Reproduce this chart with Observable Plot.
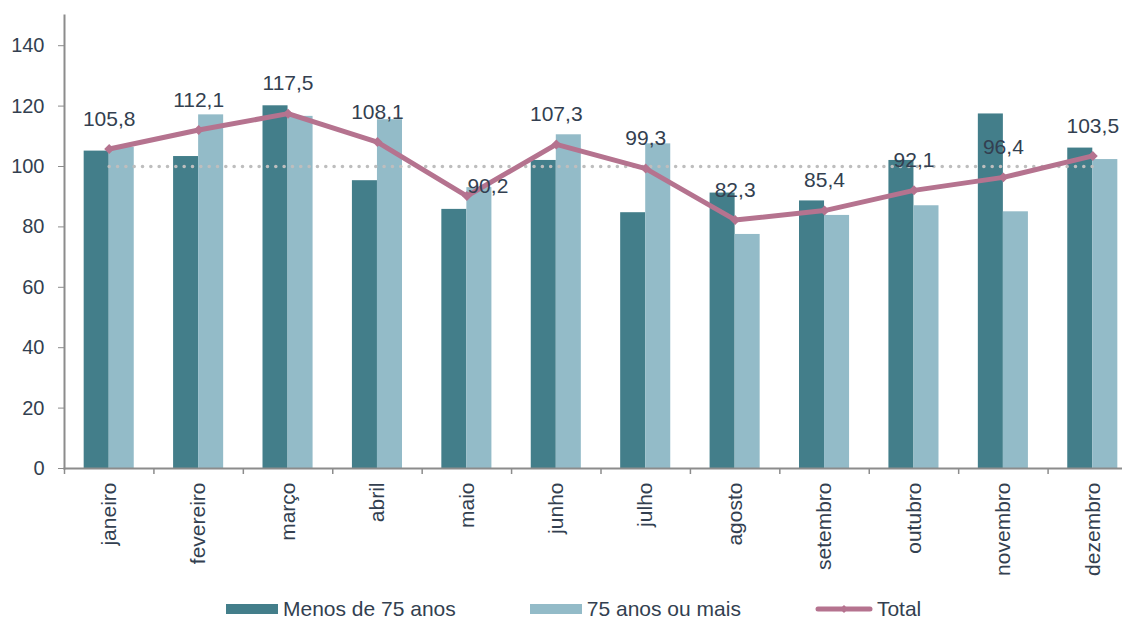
<!DOCTYPE html>
<html><head><meta charset="utf-8">
<script src="https://cdn.jsdelivr.net/npm/d3@7"></script>
<script src="https://cdn.jsdelivr.net/npm/@observablehq/plot@0.6"></script>
<style>
html,body{margin:0;padding:0;background:#fff;}
body{width:1122px;height:619px;overflow:hidden;position:relative;font-family:"Liberation Sans",Arial,sans-serif;}
#legend{position:absolute;top:598px;left:226px;display:flex;align-items:center;font-size:21px;color:#333F50;line-height:22px;}
.item{display:flex;align-items:center;margin-right:74px;}
.sw{width:52px;height:10px;margin-right:5px;}
</style></head>
<body><div id="chart"></div><div id="legend"></div>
<script>
// Data
const months = ["janeiro","fevereiro","março","abril","maio","junho","julho","agosto","setembro","outubro","novembro","dezembro"];
const menos75 = [105.1, 103.3, 120.1, 95.3, 85.8, 102.0, 84.7, 91.2, 88.6, 102.0, 117.4, 106.1];
const mais75  = [106.4, 117.1, 116.6, 115.5, 93.0, 110.5, 107.5, 77.5, 83.8, 87.0, 85.0, 102.3];
const total   = [105.8, 112.1, 117.5, 108.1, 90.2, 107.3, 99.3, 82.3, 85.4, 92.1, 96.4, 103.5];
const yTicks  = [0, 20, 40, 60, 80, 100, 120, 140];
const referenceValue = 100;
const seriesNames = ["Menos de 75 anos", "75 anos ou mais", "Total"];

// Styles
const C_DARK = "#437E8A", C_LIGHT = "#93BBC8", C_LINE = "#B5738F", C_TEXT = "#333F50", C_AXIS = "#8C8C8C";
const W = 1122, H = 588, mL = 64, mR = -15, mT = 15, mB = 120;
const step = (W - mL - mR) / months.length;
const pad = 0.44;
const half = step * (1 - pad) / 2;

const data = months.map((m, i) => ({month: m, menos: menos75[i], mais: mais75[i], total: total[i]}));
const fmt = v => d3.format(".1f")(v).replace(".", ",");

const chart = Plot.plot({
  width: W, height: H, marginLeft: mL, marginRight: mR, marginTop: mT, marginBottom: mB,
  style: {fontFamily: "Liberation Sans, Arial, sans-serif", background: "white", color: C_TEXT},
  x: {domain: months, type: "band", paddingInner: pad, paddingOuter: pad / 2, align: 0.5, round: false},
  y: {domain: [0, 150]},
  marks: [
    Plot.barY(data, {x: "month", y: "menos", fill: C_DARK, insetRight: half}),
    Plot.barY(data, {x: "month", y: "mais", fill: C_LIGHT, insetLeft: half}),
    Plot.line([months[0], months[months.length - 1]], {x: d => d, y: () => referenceValue, stroke: "#BEBEBE", strokeWidth: 3.6, strokeDasharray: "0 8.33", strokeLinecap: "round"}),
    Plot.line(data, {x: "month", y: "total", stroke: C_LINE, strokeWidth: 5, strokeLinejoin: "round"}),
    Plot.dot(data, {x: "month", y: "total", symbol: "diamond2", r: 4.5, fill: C_LINE}),
    Plot.text(data.filter(d => d.month !== "maio"), {x: "month", y: "total", text: d => fmt(d.total), dy: -30, fontSize: 21, fill: C_TEXT}),
    Plot.text(data.filter(d => d.month === "maio"), {x: "month", y: "total", text: d => fmt(d.total), dx: 21, dy: -10, fontSize: 21, fill: C_TEXT}),
    Plot.frame({anchor: "left", stroke: C_AXIS, strokeWidth: 2}),
    Plot.frame({anchor: "bottom", stroke: C_AXIS, strokeWidth: 2}),
    Plot.ruleX(months, {x: d => d, dx: -step / 2, insetTop: H - mT - mB, insetBottom: -6, stroke: C_AXIS, strokeWidth: 1.5}),
    Plot.axisY({ticks: yTicks, tickSize: 6, tickPadding: 14, fontSize: 20, stroke: C_AXIS, fill: C_TEXT, tickFormat: d => String(d), label: null}),
    Plot.axisX({tickSize: 0, tickPadding: 14, tickRotate: -90, fontSize: 21, fill: C_TEXT, label: null})
  ]
});
document.getElementById("chart").appendChild(chart);

// Legend
const legend = document.getElementById("legend");
const colors = [C_DARK, C_LIGHT];
seriesNames.forEach((name, i) => {
  const item = document.createElement("div");
  item.className = "item";
  if (i < 2) {
    const sw = document.createElement("div");
    sw.className = "sw";
    sw.style.background = colors[i];
    item.appendChild(sw);
  } else {
    const ns = "http://www.w3.org/2000/svg";
    const svg = document.createElementNS(ns, "svg");
    svg.setAttribute("width", 58); svg.setAttribute("height", 12);
    svg.style.marginRight = "4px";
    const ln = document.createElementNS(ns, "line");
    ln.setAttribute("x1", 3); ln.setAttribute("x2", 55); ln.setAttribute("y1", 6); ln.setAttribute("y2", 6);
    ln.setAttribute("stroke", C_LINE); ln.setAttribute("stroke-width", 5); ln.setAttribute("stroke-linecap", "round");
    svg.appendChild(ln);
    const dm = document.createElementNS(ns, "path");
    dm.setAttribute("d", "M29,2 L33,6 L29,10 L25,6 Z");
    dm.setAttribute("fill", C_LINE);
    svg.appendChild(dm);
    item.appendChild(svg);
  }
  const t = document.createElement("span");
  t.textContent = name;
  item.appendChild(t);
  legend.appendChild(item);
});
</script>
</body></html>
